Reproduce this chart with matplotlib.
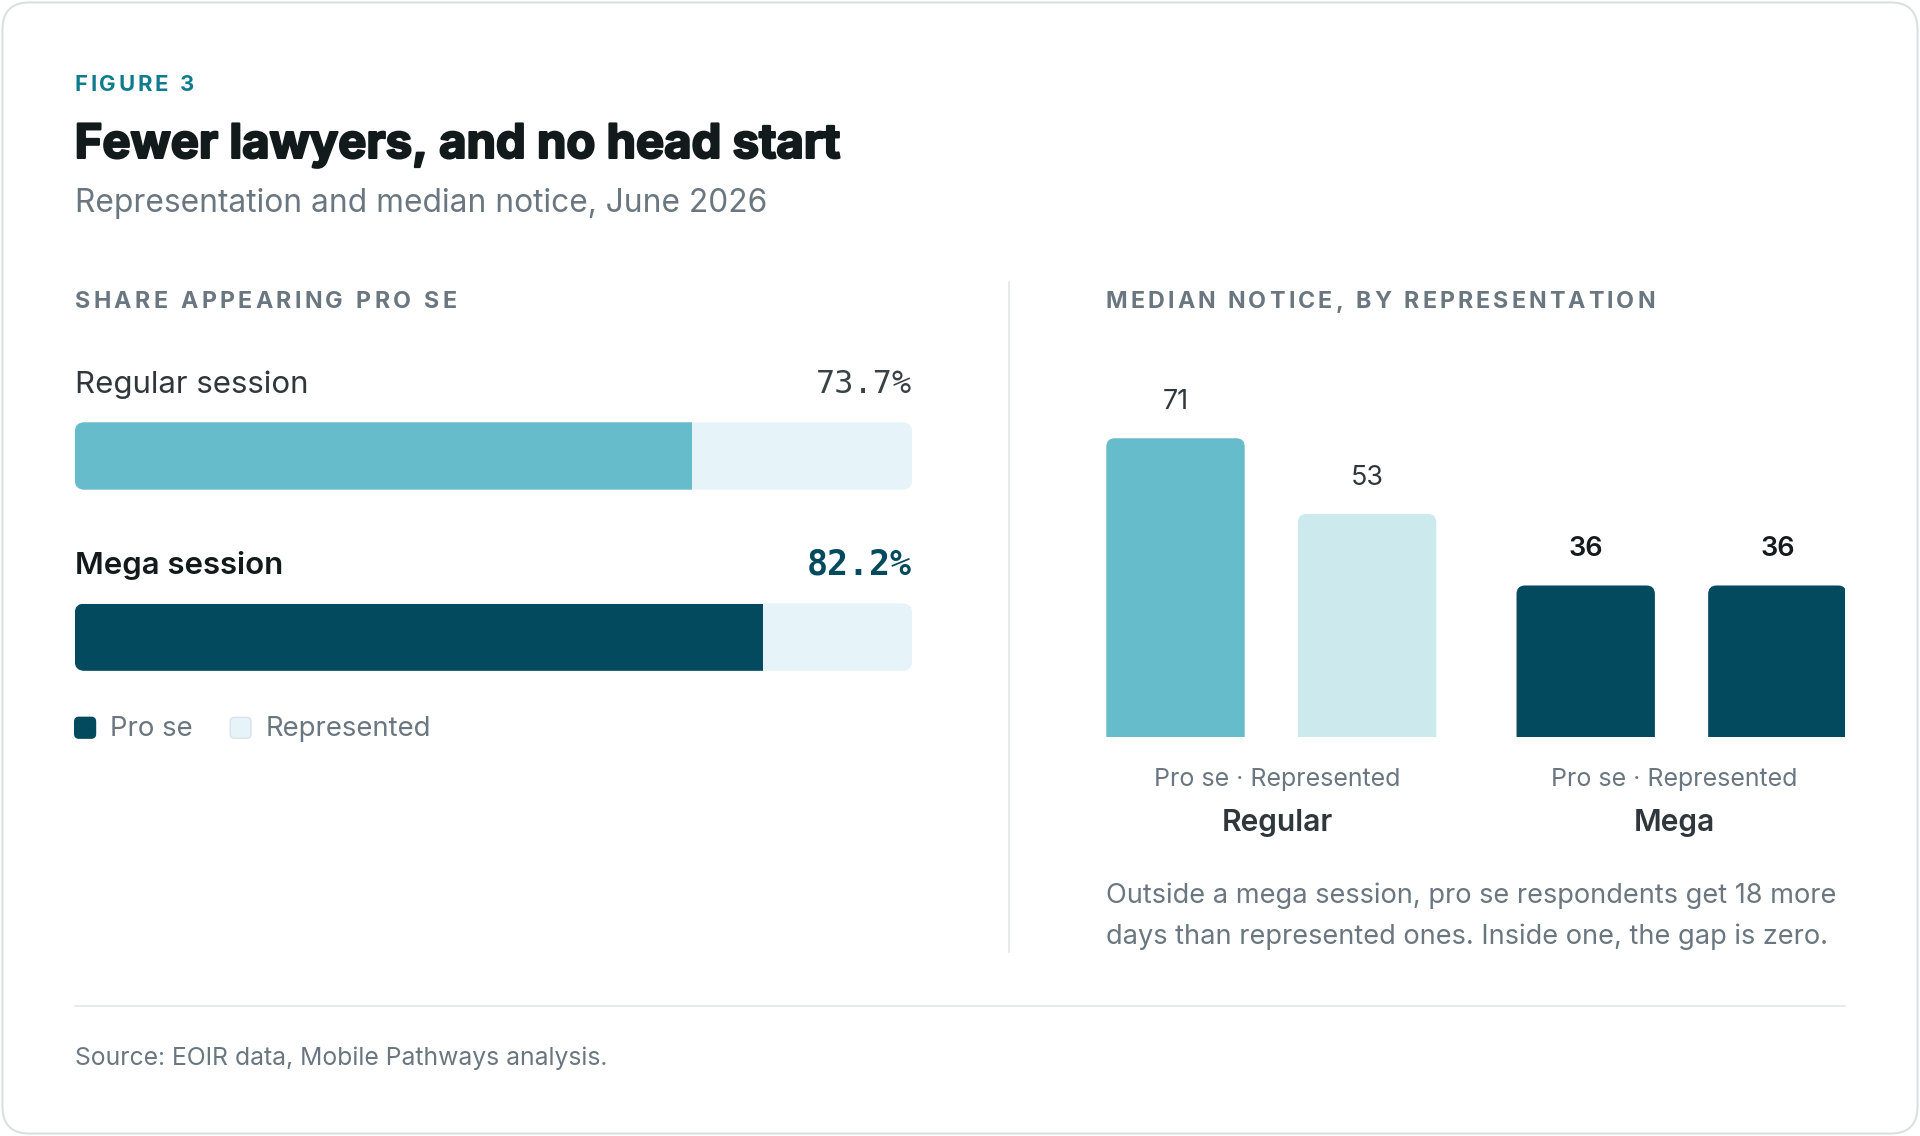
import matplotlib.pyplot as plt
import matplotlib.patheffects as pe
from matplotlib.patches import FancyBboxPatch
from matplotlib.transforms import blended_transform_factory

# --- data -------------------------------------------------------------
sessions = ["Regular session", "Mega session"]
pro_se_share = [73.7, 82.2]

groups = ["Regular", "Mega"]
reps = ["Pro se", "Represented"]
regular_notice = [71, 53]
mega_notice = [36, 36]

source = "Source: EOIR data, Mobile Pathways analysis."
note = ["Outside a mega session, pro se respondents get 18 more",
        "days than represented ones. Inside one, the gap is zero."]

# --- style ------------------------------------------------------------
TEAL = "#67bccc"
TEAL_PALE = "#cce9ed"
NAVY = "#034a5f"
TRACK = "#e6f3f8"
GRAY = "#6b7780"
INK = "#121a1c"
DARK = "#2f373c"
RULE = "#e3e6e9"
KICKER = "#0e7c8e"

W, H = 1568, 928          # design units (reference layout)
PT = 1920 / W * 0.72      # design px -> points

plt.rcParams["font.family"] = ["Inter", "DejaVu Sans"]
MONO = ["DejaVu Sans Mono"]

fig = plt.figure(figsize=(19.2, 11.36), dpi=100)
fig.patch.set_facecolor("white")
renderer = fig.canvas.get_renderer()

bg = fig.add_axes([0, 0, 1, 1], zorder=0)
bg.set_xlim(0, W)
bg.set_ylim(H, 0)
bg.axis("off")

card = FancyBboxPatch((2, 2), W - 4, H - 4,
                      boxstyle="round,pad=0,rounding_size=22",
                      facecolor="white", edgecolor="#dcdfe2", linewidth=1.5)
bg.add_patch(card)


def txt(x, y, s, size, **kw):
    kw.setdefault("va", "baseline")
    kw.setdefault("color", GRAY)
    return bg.text(x, y, s, fontsize=size * PT, **kw)


def tracked(x, y, s, size, track, **kw):
    # letter-spaced caps: place one glyph at a time
    for ch in s:
        t = txt(x, y, ch, size, **kw)
        w = t.get_window_extent(renderer).width * W / 1920
        if ch == " ":
            w = size * 0.28
        x += w + track


# header
tracked(61, 74, "FIGURE 3", 18, 2.2, color=KICKER, weight="bold")
txt(61, 129, "Fewer lawyers, and no head start", 38.6, color=INK, weight="bold",
    path_effects=[pe.withStroke(linewidth=1.6, foreground=INK)])
txt(61, 173, "Representation and median notice, June 2026", 25.9)

tracked(61, 252, "SHARE APPEARING PRO SE", 19, 2.7, weight="bold")
tracked(903, 252, "MEDIAN NOTICE, BY REPRESENTATION", 19, 2.5, weight="bold")

bg.plot([824, 824], [230, 778], color=RULE, lw=1.2)
bg.plot([61, 1507], [822, 822], color=RULE, lw=1.2)

# --- left: share pro se -------------------------------------------------
bar_h = 55
row_gap = 148
top_c = 372.5
ax_l = fig.add_axes([61 / W, 1 - (top_c + 1.5 * row_gap) / H,
                     684 / W, 2 * row_gap / H], zorder=1)
ax_l.set_xlim(0, 100)
ax_l.set_ylim(1.5, -0.5)
ax_l.axis("off")
aspect_l = (2 / (2 * row_gap)) / (100 / 684)
hb = bar_h / row_gap

fills = [TEAL, NAVY]
for i, (name, share) in enumerate(zip(sessions, pro_se_share)):
    track = FancyBboxPatch((0, i - hb / 2), 100, hb,
                           boxstyle="round,pad=0,rounding_size=%.3f" % (8 * 100 / 684),
                           mutation_aspect=aspect_l,
                           facecolor=TRACK, edgecolor="none")
    ax_l.add_patch(track)
    bars = ax_l.barh([i], [share], height=hb, color=fills[i], edgecolor="none")
    bars[0].set_clip_path(track)

    label_y = top_c + i * row_gap - 51.5
    bold = i == 1
    txt(61, label_y, name, 25.5, color=INK if bold else DARK,
        weight="semibold" if bold else "normal")
    txt(745, label_y, "%.1f%%" % share, 28.5 if bold else 26, ha="right", family=MONO,
        color=NAVY if bold else "#3a4246", weight="bold" if bold else "normal")

# legend
for x0, fc, ec, lab in [(61, NAVY, NAVY, reps[0]), (188, TRACK, "#dbe3e7", reps[1])]:
    bg.add_patch(FancyBboxPatch((x0, 586), 17, 17,
                                boxstyle="round,pad=0,rounding_size=3.5",
                                facecolor=fc, edgecolor=ec, linewidth=1))
    txt(x0 + 29, 601, lab, 22.5)

# --- right: median notice ---------------------------------------------
unit = 156.5               # px per x unit
px_per_day = 244 / 71
base_y = 602
ax_top = 290
x_left = (903 - 960) / unit
ax_r = fig.add_axes([903 / W, 1 - base_y / H, 604 / W, (base_y - ax_top) / H], zorder=1)
ax_r.set_xlim(x_left, (1507 - 960) / unit)
ax_r.set_ylim(0, (base_y - ax_top) / px_per_day)
ax_r.axis("off")

group_step = 335 / unit
bar_w = 113 / unit
col_w = 280 / unit
col_gap = 44 / unit
aspect_r = (1 / px_per_day) / (1 / unit)
yx = blended_transform_factory(ax_r.transData, bg.transData)

colors = [[TEAL, TEAL_PALE], [NAVY, NAVY]]
for g, (gname, vals) in enumerate(zip(groups, [regular_notice, mega_notice])):
    xs = [g * group_step + m for m in range(len(vals))]
    bars = ax_r.bar(xs, vals, width=bar_w, color=colors[g])
    for bar, v, x in zip(bars, vals, xs):
        bar.set_visible(False)
        ax_r.add_patch(FancyBboxPatch((bar.get_x(), -5), bar.get_width(), bar.get_height() + 5,
                                      boxstyle="round,pad=0,rounding_size=%.4f" % (7 / unit),
                                      mutation_aspect=aspect_r,
                                      facecolor=bar.get_facecolor(), edgecolor="none"))
        mega = g == 1
        ax_r.annotate(str(v), (x, v), xytext=(0, 24 * PT), textcoords="offset points",
                      ha="center", va="baseline", fontsize=22 * PT,
                      color=INK if mega else DARK,
                      weight="semibold" if mega else "normal")
    cx = x_left + g * (col_w + col_gap) + col_w / 2
    bg.text(cx, 642, " \u00b7 ".join(reps), transform=yx, ha="center", va="baseline",
            fontsize=20.4 * PT, color=GRAY)
    bg.text(cx, 679, gname, transform=yx, ha="center", va="baseline",
            fontsize=24.5 * PT, color=DARK, weight="semibold")

for k, line in enumerate(note):
    txt(903, 738 + k * 33, line, 22.2)

txt(61, 870, source, 20.2)

fig.savefig("out.png", dpi=100, facecolor="white")
